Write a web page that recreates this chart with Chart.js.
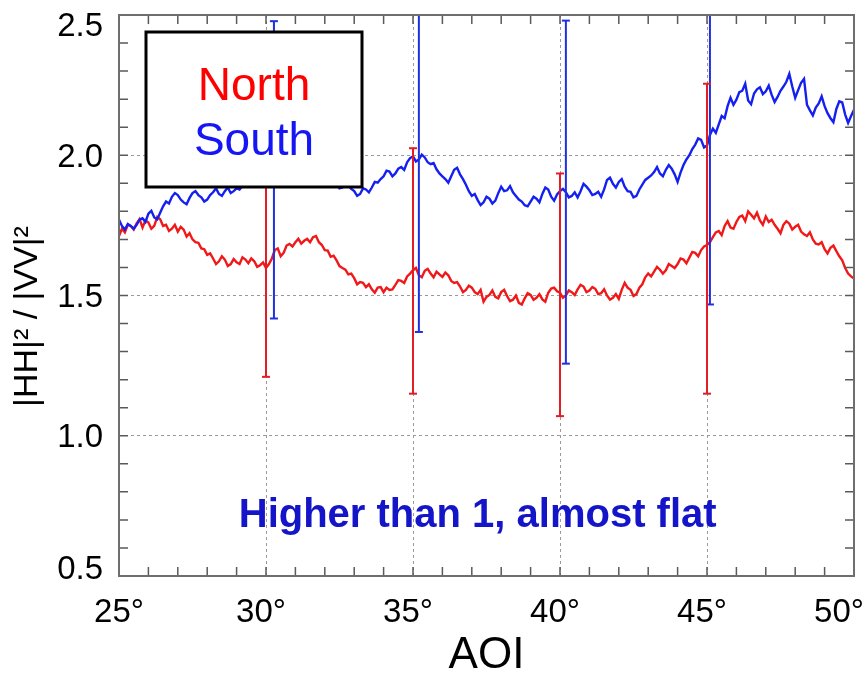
<!DOCTYPE html>
<html>
<head>
<meta charset="utf-8">
<script src="https://cdn.jsdelivr.net/npm/chart.js@4.4.1/dist/chart.umd.min.js"></script>
<style>
  html, body { margin: 0; padding: 0; background: #fff; }
</style>
</head>
<body>
<canvas id="aoiChart" width="868" height="673"></canvas>
<script>
// AOI in degrees, one sample every 0.1 deg
const aoi = [
  25.0, 25.1, 25.2, 25.3, 25.4, 25.5, 25.6, 25.7, 25.8, 25.9,
  26.0, 26.1, 26.2, 26.3, 26.4, 26.5, 26.6, 26.7, 26.8, 26.9,
  27.0, 27.1, 27.2, 27.3, 27.4, 27.5, 27.6, 27.7, 27.8, 27.9,
  28.0, 28.1, 28.2, 28.3, 28.4, 28.5, 28.6, 28.7, 28.8, 28.9,
  29.0, 29.1, 29.2, 29.3, 29.4, 29.5, 29.6, 29.7, 29.8, 29.9,
  30.0, 30.1, 30.2, 30.3, 30.4, 30.5, 30.6, 30.7, 30.8, 30.9,
  31.0, 31.1, 31.2, 31.3, 31.4, 31.5, 31.6, 31.7, 31.8, 31.9,
  32.0, 32.1, 32.2, 32.3, 32.4, 32.5, 32.6, 32.7, 32.8, 32.9,
  33.0, 33.1, 33.2, 33.3, 33.4, 33.5, 33.6, 33.7, 33.8, 33.9,
  34.0, 34.1, 34.2, 34.3, 34.4, 34.5, 34.6, 34.7, 34.8, 34.9,
  35.0, 35.1, 35.2, 35.3, 35.4, 35.5, 35.6, 35.7, 35.8, 35.9,
  36.0, 36.1, 36.2, 36.3, 36.4, 36.5, 36.6, 36.7, 36.8, 36.9,
  37.0, 37.1, 37.2, 37.3, 37.4, 37.5, 37.6, 37.7, 37.8, 37.9,
  38.0, 38.1, 38.2, 38.3, 38.4, 38.5, 38.6, 38.7, 38.8, 38.9,
  39.0, 39.1, 39.2, 39.3, 39.4, 39.5, 39.6, 39.7, 39.8, 39.9,
  40.0, 40.1, 40.2, 40.3, 40.4, 40.5, 40.6, 40.7, 40.8, 40.9,
  41.0, 41.1, 41.2, 41.3, 41.4, 41.5, 41.6, 41.7, 41.8, 41.9,
  42.0, 42.1, 42.2, 42.3, 42.4, 42.5, 42.6, 42.7, 42.8, 42.9,
  43.0, 43.1, 43.2, 43.3, 43.4, 43.5, 43.6, 43.7, 43.8, 43.9,
  44.0, 44.1, 44.2, 44.3, 44.4, 44.5, 44.6, 44.7, 44.8, 44.9,
  45.0, 45.1, 45.2, 45.3, 45.4, 45.5, 45.6, 45.7, 45.8, 45.9,
  46.0, 46.1, 46.2, 46.3, 46.4, 46.5, 46.6, 46.7, 46.8, 46.9,
  47.0, 47.1, 47.2, 47.3, 47.4, 47.5, 47.6, 47.7, 47.8, 47.9,
  48.0, 48.1, 48.2, 48.3, 48.4, 48.5, 48.6, 48.7, 48.8, 48.9,
  49.0, 49.1, 49.2, 49.3, 49.4, 49.5, 49.6, 49.7, 49.8, 49.9,
  50.0
];

const north = [
  1.712, 1.738, 1.725, 1.752, 1.748, 1.735, 1.757, 1.772, 1.742, 1.768,
  1.760, 1.738, 1.748, 1.780, 1.772, 1.748, 1.752, 1.730, 1.738, 1.752,
  1.728, 1.745, 1.735, 1.710, 1.722, 1.700, 1.690, 1.688, 1.668, 1.665,
  1.645, 1.650, 1.632, 1.612, 1.622, 1.640, 1.628, 1.605, 1.612, 1.630,
  1.618, 1.612, 1.636, 1.628, 1.615, 1.632, 1.622, 1.602, 1.608, 1.618,
  1.598, 1.612, 1.632, 1.662, 1.668, 1.640, 1.652, 1.678, 1.684, 1.675,
  1.690, 1.702, 1.685, 1.695, 1.702, 1.690, 1.708, 1.712, 1.690, 1.680,
  1.662, 1.660, 1.638, 1.642, 1.625, 1.605, 1.598, 1.592, 1.575, 1.578,
  1.562, 1.540, 1.548, 1.545, 1.530, 1.540, 1.522, 1.510, 1.528, 1.530,
  1.512, 1.528, 1.520, 1.522, 1.538, 1.555, 1.552, 1.545, 1.568, 1.578,
  1.590, 1.598, 1.572, 1.565, 1.588, 1.595, 1.578, 1.565, 1.585, 1.575,
  1.566, 1.582, 1.572, 1.552, 1.545, 1.548, 1.532, 1.512, 1.520, 1.535,
  1.528, 1.512, 1.505, 1.520, 1.478, 1.495, 1.502, 1.518, 1.495, 1.490,
  1.512, 1.520, 1.498, 1.480, 1.485, 1.500, 1.474, 1.468, 1.490, 1.508,
  1.502, 1.485, 1.492, 1.505, 1.486, 1.478, 1.510, 1.525, 1.528, 1.515,
  1.510, 1.492, 1.500, 1.518, 1.512, 1.502, 1.522, 1.538, 1.532, 1.512,
  1.518, 1.530, 1.524, 1.505, 1.508, 1.522, 1.500, 1.485, 1.492, 1.505,
  1.488, 1.520, 1.545, 1.528, 1.520, 1.498, 1.505, 1.528, 1.540, 1.565,
  1.578, 1.568, 1.585, 1.602, 1.592, 1.578, 1.590, 1.612, 1.605, 1.598,
  1.612, 1.632, 1.628, 1.615, 1.635, 1.655, 1.652, 1.640, 1.662, 1.675,
  1.680, 1.690, 1.708, 1.725, 1.730, 1.715, 1.748, 1.765, 1.742, 1.738,
  1.762, 1.780, 1.785, 1.765, 1.800, 1.788, 1.775, 1.795, 1.768, 1.752,
  1.782, 1.762, 1.770, 1.752, 1.738, 1.722, 1.752, 1.765, 1.756, 1.735,
  1.745, 1.752, 1.728, 1.718, 1.712, 1.725, 1.700, 1.685, 1.682, 1.690,
  1.665, 1.650, 1.670, 1.678, 1.658, 1.640, 1.625, 1.598, 1.578, 1.568,
  1.560
];

const south = [
  1.770, 1.748, 1.735, 1.755, 1.748, 1.738, 1.752, 1.770, 1.775, 1.762,
  1.792, 1.802, 1.778, 1.772, 1.795, 1.818, 1.835, 1.828, 1.852, 1.865,
  1.858, 1.842, 1.832, 1.825, 1.848, 1.865, 1.872, 1.858, 1.850, 1.835,
  1.842, 1.858, 1.868, 1.882, 1.862, 1.855, 1.872, 1.885, 1.865, 1.872,
  1.882, 1.878, 1.890, 1.905, 1.902, 1.895, 1.915, 1.928, 1.922, 1.915,
  1.935, 1.955, 1.948, 1.932, 1.940, 1.948, 1.928, 1.918, 1.935, 1.928,
  1.918, 1.935, 1.925, 1.902, 1.910, 1.925, 1.915, 1.898, 1.902, 1.915,
  1.908, 1.890, 1.895, 1.912, 1.900, 1.882, 1.885, 1.898, 1.892, 1.880,
  1.872, 1.855, 1.862, 1.882, 1.878, 1.868, 1.885, 1.905, 1.902, 1.915,
  1.925, 1.945, 1.942, 1.925, 1.935, 1.952, 1.958, 1.948, 1.975, 1.990,
  1.996, 1.978, 1.985, 2.002, 1.992, 1.975, 1.968, 1.972, 1.950, 1.935,
  1.925, 1.915, 1.902, 1.925, 1.948, 1.955, 1.932, 1.915, 1.895, 1.872,
  1.855, 1.862, 1.840, 1.822, 1.832, 1.852, 1.845, 1.828, 1.838, 1.865,
  1.888, 1.872, 1.875, 1.890, 1.868, 1.855, 1.842, 1.835, 1.822, 1.818,
  1.835, 1.852, 1.845, 1.832, 1.862, 1.885, 1.878, 1.852, 1.838, 1.860,
  1.872, 1.880, 1.868, 1.850, 1.855, 1.868, 1.850, 1.872, 1.898, 1.888,
  1.875, 1.858, 1.862, 1.870, 1.852, 1.878, 1.912, 1.920, 1.898, 1.885,
  1.905, 1.915, 1.888, 1.872, 1.870, 1.850, 1.855, 1.878, 1.895, 1.912,
  1.920, 1.928, 1.940, 1.958, 1.935, 1.925, 1.948, 1.965, 1.952, 1.932,
  1.905, 1.938, 1.965, 1.985, 2.000, 2.022, 2.038, 2.060, 2.055, 2.028,
  2.035, 2.072, 2.095, 2.080, 2.110, 2.140, 2.132, 2.175, 2.205, 2.180,
  2.198, 2.225, 2.230, 2.255, 2.195, 2.182, 2.220, 2.235, 2.242, 2.218,
  2.228, 2.248, 2.215, 2.190, 2.208, 2.230, 2.245, 2.262, 2.290, 2.245,
  2.205, 2.232, 2.258, 2.272, 2.180, 2.160, 2.142, 2.170, 2.185, 2.210,
  2.175, 2.150, 2.132, 2.118, 2.165, 2.192, 2.188, 2.145, 2.115, 2.140,
  2.162
];

// error bars (low / high ends)
const northBarX = [30.0, 35.0, 40.0, 45.0];
const northBarLo = [1.21, 1.15, 1.07, 1.15];
const northBarHi = [2.03, 2.025, 1.935, 2.255];
const southBarX = [30.27, 35.2, 40.2, 45.1];
const southBarLo = [1.418, 1.37, 1.257, 1.468];
const southBarHi = [2.478, 2.63, 2.48, 2.69];

const xTicks = [25, 30, 35, 40, 45, 50];
const xTickLabels = ['25°', '30°', '35°', '40°', '45°', '50°'];
const yTicks = [0.5, 1.0, 1.5, 2.0, 2.5];
const yTickLabels = ['0.5', '1.0', '1.5', '2.0', '2.5'];

const FONT = '"Liberation Sans", Arial, sans-serif';
const RED = '#f01818';
const BLUE = '#1420f0';

function barSets(xs, lo, hi, color) {
  return xs.map((d, i) => ({
    data: [{ x: d, y: lo[i] }, { x: d, y: hi[i] }],
    borderColor: color,
    borderWidth: 2,
    pointStyle: 'line',
    pointRadius: 4,
    pointBorderWidth: 2,
    pointBorderColor: color,
    order: 1
  }));
}

const gridColor = (ctx, ends) => {
  const v = ctx.tick ? ctx.tick.value : null;
  return ends.includes(v) ? 'rgba(0,0,0,0)' : '#9a9a9a';
};

const decorations = {
  id: 'decorations',
  afterDatasetsDraw(chart) {
    const { ctx, chartArea: a, scales: { x, y } } = chart;
    ctx.save();

    // minor ticks on all four sides
    ctx.strokeStyle = '#5a5a5a';
    ctx.lineWidth = 1.5;
    ctx.beginPath();
    for (let d = 25; d <= 50; d++) {
      const px = x.getPixelForValue(d);
      ctx.moveTo(px, a.bottom); ctx.lineTo(px, a.bottom - 9);
      ctx.moveTo(px, a.top); ctx.lineTo(px, a.top + 9);
    }
    for (let i = 0; i <= 20; i++) {
      const py = y.getPixelForValue(0.5 + i * 0.1);
      ctx.moveTo(a.left, py); ctx.lineTo(a.left + 9, py);
      ctx.moveTo(a.right, py); ctx.lineTo(a.right - 9, py);
    }
    ctx.stroke();

    // frame
    ctx.strokeStyle = '#6e6e6e';
    ctx.lineWidth = 2;
    ctx.strokeRect(a.left, a.top, a.right - a.left, a.bottom - a.top);

    // legend box
    const bx = a.left + 27, by = a.top + 17, bw = 216, bh = 155;
    ctx.fillStyle = '#fff';
    ctx.fillRect(bx, by, bw, bh);
    ctx.strokeStyle = '#000';
    ctx.lineWidth = 3;
    ctx.strokeRect(bx, by, bw, bh);
    ctx.font = '46px ' + FONT;
    ctx.textAlign = 'center';
    ctx.textBaseline = 'alphabetic';
    ctx.fillStyle = '#ff0000';
    ctx.fillText('North', bx + bw / 2, by + 68);
    ctx.fillStyle = '#1515f5';
    ctx.fillText('South', bx + bw / 2, by + 123);

    // note
    ctx.font = 'bold 40px ' + FONT;
    ctx.fillStyle = '#1414c8';
    ctx.fillText('Higher than 1, almost flat', x.getPixelForValue(37.2), y.getPixelForValue(0.675));

    // tick labels
    ctx.fillStyle = '#000';
    ctx.font = '33px ' + FONT;
    ctx.textAlign = 'center';
    xTicks.forEach((v, i) => {
      const w = ctx.measureText(xTickLabels[i]).width;
      let cx = x.getPixelForValue(v) - (i === 0 ? 0 : 5);
      cx = Math.min(cx, chart.width - 4 - w / 2);
      ctx.fillText(xTickLabels[i], cx, a.bottom + 46);
    });
    ctx.textAlign = 'right';
    yTicks.forEach((v, i) => {
      let cy = y.getPixelForValue(v);
      cy = Math.max(a.top + 9, Math.min(a.bottom - 9, cy));
      ctx.fillText(yTickLabels[i], a.left - 16, cy + 11.5);
    });

    // y title
    ctx.translate(28, (a.top + a.bottom) / 2 + 21);
    ctx.rotate(-Math.PI / 2);
    ctx.textAlign = 'center';
    ctx.textBaseline = 'middle';
    ctx.font = '34px ' + FONT;
    ctx.fillText('|HH|² / |VV|²', 0, 0);

    ctx.restore();
  }
};

new Chart(document.getElementById('aoiChart'), {
  type: 'line',
  data: {
    datasets: [
      {
        label: 'North',
        data: aoi.map((d, i) => ({ x: d, y: north[i] })),
        borderColor: RED,
        borderWidth: 2.4,
        pointRadius: 0,
        tension: 0,
        order: 3
      },
      {
        label: 'South',
        data: aoi.map((d, i) => ({ x: d, y: south[i] })),
        borderColor: BLUE,
        borderWidth: 2.4,
        pointRadius: 0,
        tension: 0,
        order: 2
      },
      ...barSets(northBarX, northBarLo, northBarHi, '#e41c24'),
      ...barSets(southBarX, southBarLo, southBarHi, '#2030e0')
    ]
  },
  options: {
    responsive: false,
    animation: false,
    events: [],
    layout: { padding: { top: 15, right: 14, left: 0, bottom: 0 } },
    plugins: { legend: { display: false }, tooltip: { enabled: false } },
    scales: {
      x: {
        type: 'linear',
        min: 25,
        max: 50,
        afterBuildTicks: s => { s.ticks = xTicks.map(v => ({ value: v })); },
        afterFit: s => { s.height = 97; },
        ticks: { display: false },
        grid: { color: c => gridColor(c, [25, 50]), lineWidth: 1, drawTicks: false },
        border: { display: false, dash: [3, 3] },
        title: {
          display: true,
          text: 'AOI',
          color: '#000',
          padding: 0,
          font: { family: FONT, size: 44, lineHeight: 0.8 }
        }
      },
      y: {
        type: 'linear',
        min: 0.5,
        max: 2.5,
        afterBuildTicks: s => { s.ticks = yTicks.map(v => ({ value: v })); },
        afterFit: s => { s.width = 119; },
        ticks: { display: false },
        grid: { color: c => gridColor(c, [0.5, 2.5]), lineWidth: 1, drawTicks: false },
        border: { display: false, dash: [3, 3] }
      }
    }
  },
  plugins: [decorations]
});
</script>
</body>
</html>
